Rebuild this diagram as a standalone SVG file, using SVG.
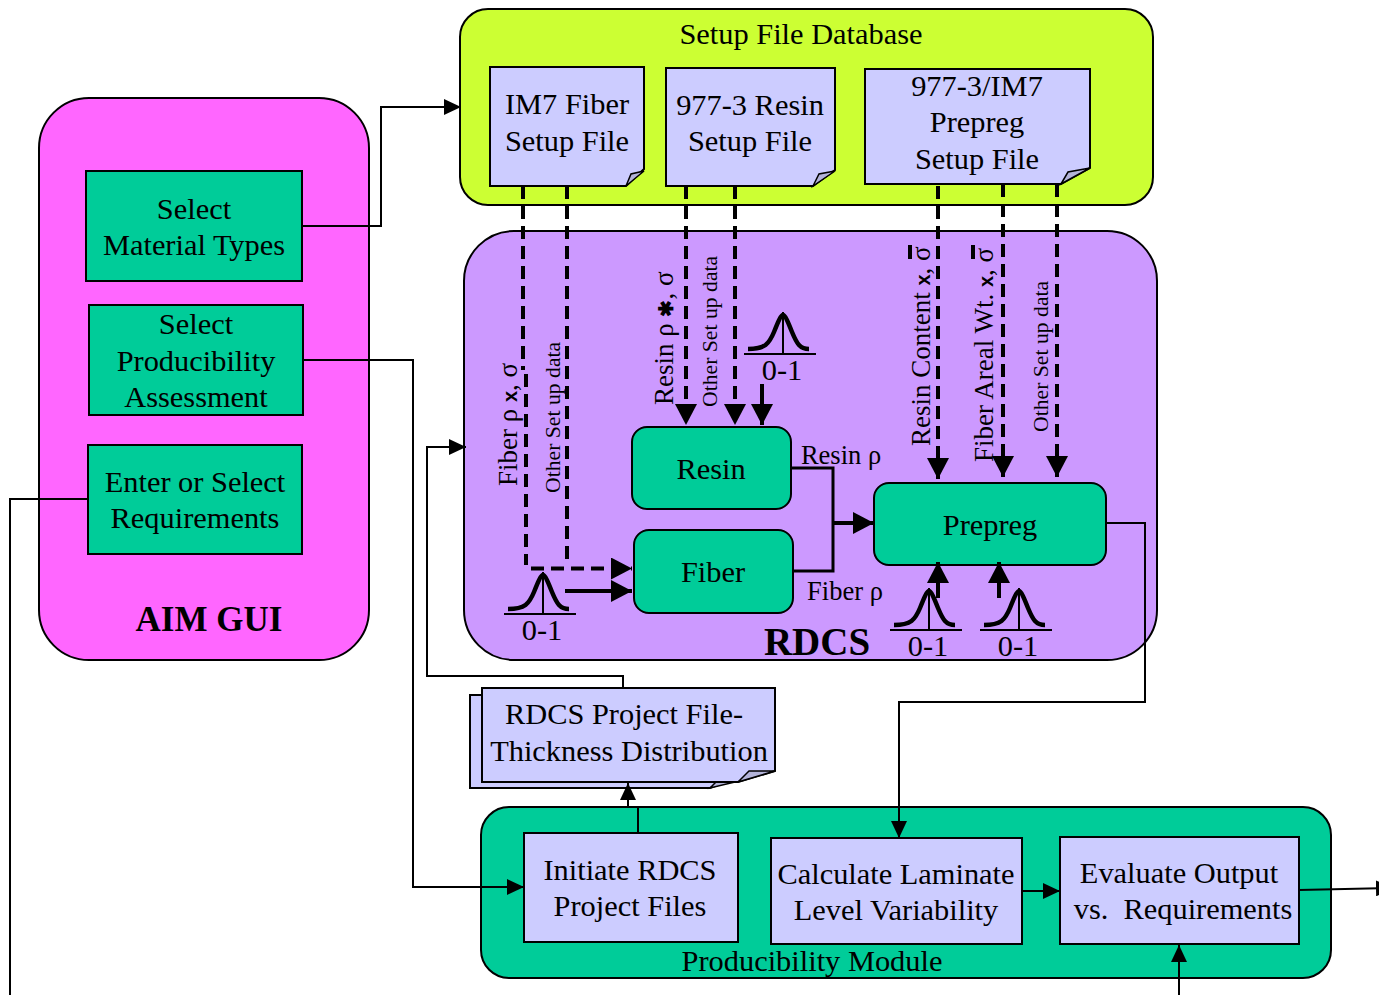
<svg xmlns="http://www.w3.org/2000/svg" xmlns:xlink="http://www.w3.org/1999/xlink" width="1379" height="995" viewBox="0 0 1379 995">
<style>
text{font-family:"Liberation Serif","Times New Roman",serif;fill:#000;text-anchor:middle}
.l{font-size:30.4px}
.v{font-size:27px;text-anchor:start}
.vb{font-family:"Liberation Sans",sans-serif;font-weight:bold;font-size:20px}
.vs{font-size:21.7px;text-anchor:start}
.box{stroke:#000;stroke-width:2}
.green{fill:#00CC99}
.note{fill:#CCCCFF;stroke:#000;stroke-width:2}
.fold{fill:#B3B3D9;stroke:#000;stroke-width:1.5}
.thin{fill:none;stroke:#000;stroke-width:2}
.thick{fill:none;stroke:#000;stroke-width:4}
.dash{fill:none;stroke:#000;stroke-width:4;stroke-dasharray:13 7}
.bell{fill:none;stroke:#000;stroke-width:4.500}
.bl{fill:none;stroke:#000;stroke-width:2}
</style>
<defs>
<marker id="a" markerUnits="userSpaceOnUse" markerWidth="18" markerHeight="16" refX="17" refY="8" orient="auto"><path d="M0 0L17 8L0 16Z" fill="#000"/></marker>
<marker id="b" markerUnits="userSpaceOnUse" markerWidth="22" markerHeight="22" refX="21" refY="11" orient="auto"><path d="M0 0L21 11L0 22Z" fill="#000"/></marker>
<g id="bell">
<path class="bell" d="M-35 -5C-18 -5 -14 -10 -9 -22C-5 -32 -2 -39 0 -39C2 -39 5 -32 9 -22C14 -10 17 -5 26 -5"/>
<path class="bl" d="M0 -42V0M-39 0H33"/>
<text class="l" x="-1" y="26">0-1</text>
</g>
</defs>

<g id="aim-gui">
<rect class="box" x="39" y="98" width="330" height="562" rx="50" fill="#FF66FF"/>
<text x="209" y="631" font-size="35" font-weight="bold">AIM GUI</text>
</g>
<g id="setup-db">
<rect class="box" x="460" y="9" width="693" height="196" rx="28" fill="#CCFF33"/>
<text class="l" x="801" y="44">Setup File Database</text>
</g>
<g id="rdcs">
<rect class="box" x="464" y="231" width="693" height="429" rx="50" fill="#CC99FF"/>
<text x="817" y="655" font-size="39" font-weight="bold">RDCS</text>
</g>
<g id="producibility">
<rect class="box" x="481" y="807" width="850" height="171" rx="28" fill="#00CC99"/>
<text class="l" x="812" y="971">Producibility Module</text>
</g>

<g id="select-material">
<rect class="box green" x="86" y="171" width="216" height="110"/>
<text class="l" x="194" y="219">Select</text><text class="l" x="194" y="255">Material Types</text>
</g>
<g id="select-producibility">
<rect class="box green" x="89" y="305" width="214" height="110"/>
<text class="l" x="196" y="334">Select</text><text class="l" x="196" y="371">Producibility</text><text class="l" x="196" y="407">Assessment</text>
</g>
<g id="enter-requirements">
<rect class="box green" x="88" y="445" width="214" height="109"/>
<text class="l" x="195" y="492">Enter or Select</text><text class="l" x="195" y="528">Requirements</text>
</g>

<g id="im7-fiber">
<path class="note" d="M490 67H644V169L626 186H490Z"/><path class="fold" d="M626 186L631 174L644 171Z"/>
<text class="l" x="567" y="114">IM7 Fiber</text><text class="l" x="567" y="151">Setup File</text>
</g>
<g id="resin-file">
<path class="note" d="M666 68H835V170L813 186H666Z"/><path class="fold" d="M813 186L819 174L835 171Z"/>
<text class="l" x="750" y="115">977-3 Resin</text><text class="l" x="750" y="151">Setup File</text>
</g>
<g id="prepreg-file">
<path class="note" d="M865 69H1090V168L1061 184H865Z"/><path class="fold" d="M1061 184L1068 172L1090 168Z"/>
<text class="l" x="977" y="96">977-3/IM7</text><text class="l" x="977" y="132">Prepreg</text><text class="l" x="977" y="169">Setup File</text>
</g>

<g id="resin-node">
<rect class="box green" x="632" y="427" width="159" height="82" rx="15"/>
<text class="l" x="711" y="479">Resin</text>
</g>
<g id="fiber-node">
<rect class="box green" x="634" y="530" width="159" height="83" rx="15"/>
<text class="l" x="713" y="582">Fiber</text>
</g>
<g id="prepreg-node">
<rect class="box green" x="874" y="483" width="232" height="82" rx="15"/>
<text class="l" x="990" y="535">Prepreg</text>
</g>

<g id="project-file">
<path class="note" d="M470 695H500V770H760L710 788H470Z"/>
<path class="fold" d="M710 788L717 781L735 782Z"/>
<path class="note" d="M482 688H775V771L738 782H482Z"/>
<path class="fold" d="M738 782L749 771L775 771Z"/>
<text class="l" x="624" y="724">RDCS Project File-</text><text class="l" x="629" y="761">Thickness Distribution</text>
</g>

<g id="initiate">
<rect class="box" x="524" y="833" width="214" height="109" fill="#CCCCFF"/>
<text class="l" x="630" y="880">Initiate RDCS</text><text class="l" x="630" y="916">Project Files</text>
</g>
<g id="calculate">
<rect class="box" x="771" y="838" width="251" height="106" fill="#CCCCFF"/>
<text class="l" x="896" y="884">Calculate Laminate</text><text class="l" x="896" y="920">Level Variability</text>
</g>
<g id="evaluate">
<rect class="box" x="1060" y="837" width="239" height="107" fill="#CCCCFF"/>
<text class="l" x="1179" y="883">Evaluate Output</text><text class="l" x="1183" y="919">vs.&#160; Requirements</text>
</g>

<g id="connectors">
<path class="thin" d="M302 226H381V107H461" marker-end="url(#a)"/>
<path class="thin" d="M303 360H413V887H524" marker-end="url(#a)"/>
<path class="thin" d="M88 499H10V995"/>
<path class="thin" d="M1106 523H1145V702H899V838" marker-end="url(#a)"/>
<path class="thin" d="M623 688V676H427V447H466" marker-end="url(#a)"/>
<path class="thin" d="M638 833V807H628V783" marker-end="url(#a)"/>
<path class="thin" d="M1022 891H1060" marker-end="url(#a)"/>
<path class="thin" d="M1299 890L1393 888" marker-end="url(#a)"/>
<path class="thin" d="M1179 995V945" marker-end="url(#a)"/>

<path class="dash" d="M523 186V370"/>
<path class="dash" d="M526 374V565"/>
<path class="dash" d="M567 186V564"/>
<path class="dash" d="M531 568.500H632" marker-end="url(#b)"/>
<path class="thick" d="M565 591H632" marker-end="url(#b)"/>
<path class="dash" d="M686 186V425" marker-end="url(#b)"/>
<path class="dash" d="M735 186V425" marker-end="url(#b)"/>
<path class="thick" d="M762 384V425" marker-end="url(#b)"/>
<path class="dash" d="M938 186V479" marker-end="url(#b)"/>
<path class="dash" d="M1003 184V477" marker-end="url(#b)"/>
<path class="dash" d="M1057 184V477" marker-end="url(#b)"/>
<path class="thick" d="M791 468H833V571H793" style="stroke-width:3"/>
<path class="thick" d="M833 523H874" marker-end="url(#b)"/>
<path class="thick" d="M938 598V562" marker-end="url(#b)"/>
<path class="thick" d="M999 598V562" marker-end="url(#b)"/>
</g>

<g id="labels">
<use xlink:href="#bell" href="#bell" x="543" y="614"/>
<use xlink:href="#bell" href="#bell" x="783" y="354"/>
<use xlink:href="#bell" href="#bell" x="929" y="630"/>
<use xlink:href="#bell" href="#bell" x="1019" y="630"/>
<text x="841" y="464" font-size="26.500">Resin ρ</text>
<text x="845" y="600" font-size="26.500">Fiber ρ</text>
<text class="v" transform="translate(517 486) rotate(-90)">Fiber ρ <tspan class="vb">x</tspan>, σ</text>
<text class="vs" transform="translate(560 493) rotate(-90)">Other Set up data</text>
<text class="v" transform="translate(673 405) rotate(-90)">Resin ρ <tspan class="vb" font-size="18">✱</tspan>, σ</text>
<text class="vs" transform="translate(717 407) rotate(-90)">Other Set up data</text>
<text class="v" transform="translate(930 446) rotate(-90)">Resin Content <tspan class="vb">x</tspan>, σ</text>
<text class="v" transform="translate(993 462) rotate(-90)">Fiber Areal Wt. <tspan class="vb">x</tspan>, σ</text>
<text class="vs" transform="translate(1048 432) rotate(-90)">Other Set up data</text>
<path class="thick" d="M910 245V259M973 245V259"/>
</g>
</svg>
